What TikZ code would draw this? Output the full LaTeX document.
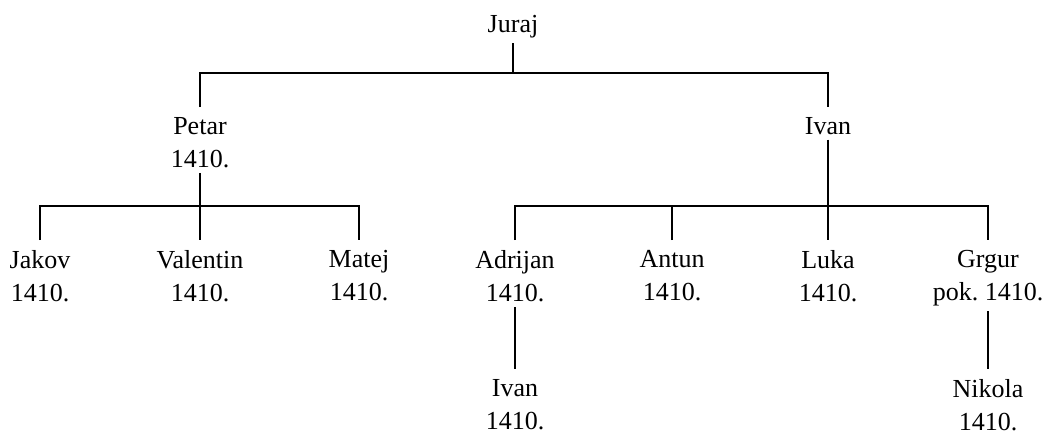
\documentclass[tikz,border=0pt]{standalone}
\usepackage{fontspec}
\setmainfont{Liberation Serif}
\usepackage{xcolor}
\definecolor{ink}{HTML}{000000}
\usepackage{tikz}
\usetikzlibrary{calc}

\begin{document}
\begin{tikzpicture}[
  x=1pt, y=1pt,
  font=\fontsize{26}{33}\selectfont,
  person/.style={anchor=north, align=center, inner xsep=0pt, inner ysep=5pt, text=ink},
  link/.style={draw=ink, line width=1.7pt}
]
  \useasboundingbox (0,0) rectangle (1043,-436);
  % generations
  \node[person] (juraj) at (513,-10) {Juraj};
  \node[person] (petar) at (200,-112) {Petar\\1410.};
  \node[person] (ivan) at (828,-112) {Ivan};
  \node[person] (jakov) at (40,-245) {Jakov\\1410.};
  \node[person] (valentin) at (200,-245) {Valentin\\1410.};
  \node[person] (matej) at (359,-245) {Matej\\1410.};
  \node[person] (adrijan) at (515,-245) {Adrijan\\1410.};
  \node[person] (antun) at (672,-245) {Antun\\1410.};
  \node[person] (luka) at (828,-245) {Luka\\1410.};
  \node[person] (grgur) at (988,-245) {Grgur\\pok.\ 1410.};
  \node[person] (ivan2) at (515,-374) {Ivan\\1410.};
  \node[person] (nikola) at (988,-374) {Nikola\\1410.};
  % buses
  \coordinate (jbus) at (513,-73);
  \coordinate (pbus) at (200,-206);
  \coordinate (ibus) at (828,-206);
  % lines
  \draw[link] (juraj.south) -- (jbus);
  \draw[link] ([yshift=5pt]petar.north) |- (jbus) -| ([yshift=5pt]ivan.north);
  \draw[link] (petar.south) -- (pbus);
  \draw[link] ([yshift=5pt]jakov.north) |- (pbus) -| ([yshift=5pt]matej.north);
  \draw[link] (pbus) -- ([yshift=5pt]valentin.north);
  \draw[link] (ivan.south) -- (ibus);
  \draw[link] ([yshift=5pt]adrijan.north) |- (ibus) -| ([yshift=5pt]grgur.north);
  \draw[link] (ibus) -- ([yshift=5pt]luka.north);
  \draw[link] ([yshift=5pt]antun.north) -- (antun.north |- ibus);
  \draw[link] (adrijan.south) -- ([yshift=5pt]ivan2.north);
  \draw[link] (grgur.south) -- ([yshift=5pt]nikola.north);
\end{tikzpicture}
\end{document}
